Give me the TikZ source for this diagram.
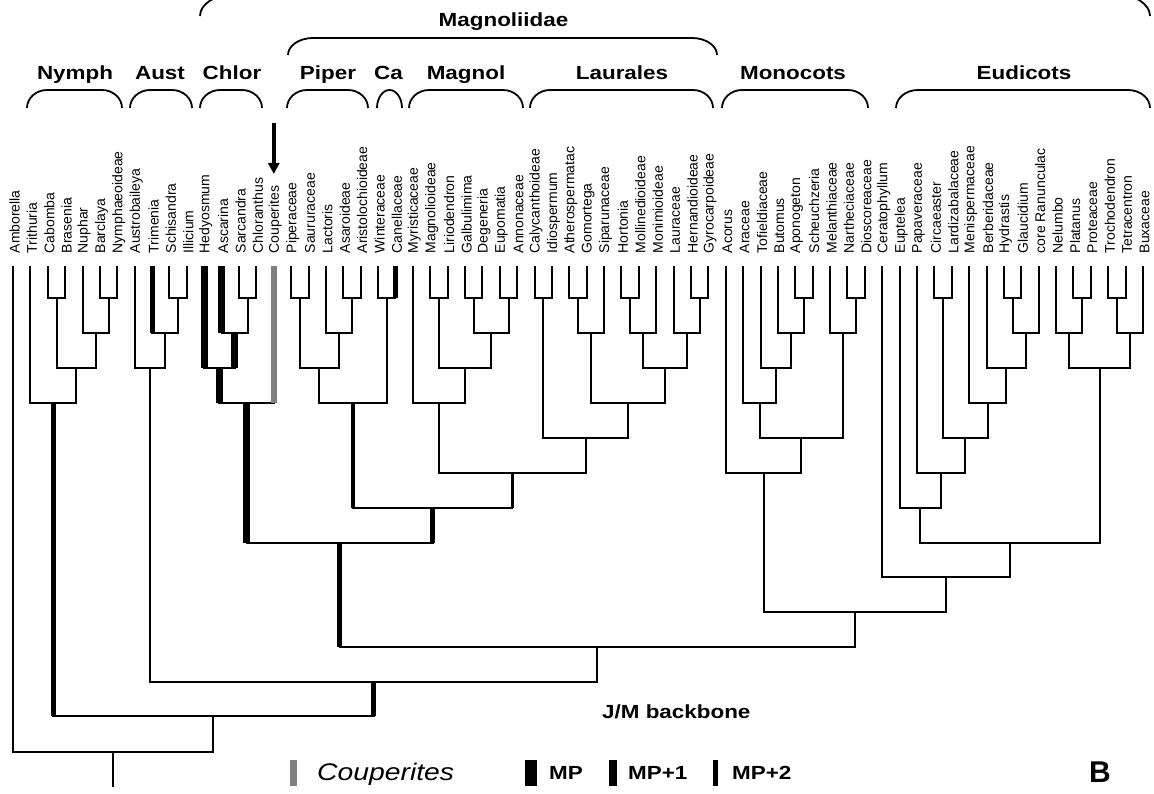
\documentclass[tikz,border=0pt]{standalone}
\usepackage{fontspec}
\setmainfont{Liberation Sans}
\usepackage{graphicx}
\usetikzlibrary{arrows.meta}
\definecolor{coupgray}{RGB}{128,128,128}
\newcommand\widetxt[1]{\scalebox{1.18}[1]{#1}}
\newcommand\brkt[5]{\draw[brk] (#1,#4) .. controls (#1,{#4-0.55*(#4-#3)}) and ({#1+0.45*#5},#3) .. ({#1+#5},#3) -- ({#2-#5},#3) .. controls ({#2-0.45*#5},#3) and (#2,{#4-0.55*(#4-#3)}) .. (#2,#4);}
\begin{document}
\begin{tikzpicture}[x=1pt,y=-1pt,
  br/.style={line width=2pt,line join=miter},
  mp/.style={line width=7pt},
  mpa/.style={line width=5pt},
  mpb/.style={line width=3.5pt},
  coup/.style={line width=6pt,draw=coupgray},
  brk/.style={line width=1.8pt},
  tiplab/.style={rotate=90,anchor=west,inner sep=0pt,font=\fontsize{14}{14}\selectfont},
  grp/.style={anchor=base,inner sep=0pt,font=\bfseries\fontsize{19}{19}\selectfont},
  legtxt/.style={anchor=base west,inner sep=0pt,font=\bfseries\fontsize{19}{19}\selectfont},
  legbar/.style={inner sep=0pt,minimum height=26pt,fill=black,draw=none}]
\useasboundingbox (0,0) rectangle (1154,794);
\fill[white] (0,0) rectangle (1154,794);
\clip (0,0) rectangle (1154,794);

% tips and their labels
\foreach \i/\n in {1/Amborella,2/Trithuria,3/Cabomba,4/Brasenia,5/Nuphar,6/Barclaya,7/Nymphaeoideae,
 8/Austrobaileya,9/Trimenia,10/Schisandra,11/Illicium,12/Hedyosmum,13/Ascarina,14/Sarcandra,15/Chloranthus,
 16/Couperites,17/Piperaceae,18/Saururaceae,19/Lactoris,20/Asaroideae,21/Aristolochioideae,22/Winteraceae,
 23/Canellaceae,24/Myristicaceae,25/Magnolioideae,26/Liriodendron,27/Galbulimima,28/Degeneria,29/Eupomatia,
 30/Annonaceae,31/Calycanthoideae,32/Idiospermum,33/Atherospermatac,34/Gomortega,35/Siparunaceae,36/Hortonia,
 37/Mollinedioideae,38/Monimioideae,39/Lauraceae,40/Hernandioideae,41/Gyrocarpoideae,42/Acorus,43/Araceae,
 44/Tofieldiaceae,45/Butomus,46/Aponogeton,47/Scheuchzeria,48/Melanthiaceae,49/Nartheciaceae,50/Dioscoreaceae,
 51/Ceratophyllum,52/Euptelea,53/Papaveraceae,54/Circaeaster,55/Lardizabalaceae,56/Menispermaceae,
 57/Berberidaceae,58/Hydrastis,59/Glaucidium,60/core Ranunculac,61/Nelumbo,62/Platanus,63/Proteaceae,
 64/Trochodendron,65/Tetracentron,66/Buxaceae}{
  \coordinate (t\i) at ({13+(\i-1)*17.385},266);
  \node[tiplab] (lab\i) at ({14.5+(\i-1)*17.385},253.5) {\n};
}

% internal nodes
\coordinate (CB) at (56.5,298);     \coordinate (BN) at (108.6,298);
\coordinate (NBN) at (95.55,333);   \coordinate (Nym) at (76.0,368);
\coordinate (NymT) at (53.2,403);
\coordinate (SI) at (178.2,298);    \coordinate (TSI) at (165.15,333);
\coordinate (Aus) at (149.9,368);
\coordinate (SC) at (247.7,298);    \coordinate (ASC) at (234.65,333);
\coordinate (Chl) at (219.4,368);   \coordinate (ChlC) at (246.6,403);
\coordinate (PS) at (299.85,298);   \coordinate (AA) at (352.0,298);
\coordinate (LAA) at (338.95,333);  \coordinate (Pip) at (319.4,368);
\coordinate (WC) at (386.8,298);    \coordinate (PC) at (353.1,403);
\coordinate (ML) at (438.9,298);    \coordinate (GD) at (473.7,298);
\coordinate (EA) at (508.5,298);    \coordinate (GDEA) at (491.1,333);
\coordinate (MLG) at (465.0,368);   \coordinate (Mag) at (438.95,403);
\coordinate (CI) at (543.25,298);   \coordinate (AG) at (578.0,298);
\coordinate (AGS) at (591.05,333);  \coordinate (HM) at (630.2,298);
\coordinate (HMM) at (643.2,333);   \coordinate (HG) at (699.7,298);
\coordinate (LHG) at (686.65,333);  \coordinate (HML) at (664.9,368);
\coordinate (AH) at (628.0,403);    \coordinate (Lau) at (585.6,438);
\coordinate (MagLau) at (512.3,473);\coordinate (Magn) at (432.7,508);
\coordinate (ChlMag) at (339.65,543);
\coordinate (AS) at (804.0,298);    \coordinate (BAS) at (790.95,333);
\coordinate (TBAS) at (775.8,368);  \coordinate (ArT) at (759.5,403);
\coordinate (ND) at (856.2,298);    \coordinate (MND) at (843.15,333);
\coordinate (MonoA) at (801.3,438); \coordinate (Mono) at (763.55,473);
\coordinate (CL) at (943.1,298);    \coordinate (HGl) at (1012.6,298);
\coordinate (HGR) at (1025.65,333); \coordinate (BHGR) at (1006.1,368);
\coordinate (MB) at (987.65,403);   \coordinate (CLMB) at (965.4,438);
\coordinate (PCL) at (941.2,473);   \coordinate (Ran) at (920.4,508);
\coordinate (PP) at (1082.2,298);   \coordinate (NPP) at (1069.15,333);
\coordinate (TT) at (1116.95,298);  \coordinate (TTB) at (1130.0,333);
\coordinate (Prot) at (1099.6,368); \coordinate (Eud) at (1010.0,543);
\coordinate (CE) at (946.15,577);   \coordinate (ME) at (854.85,612);
\coordinate (Mes) at (597.25,647);  \coordinate (AusMes) at (373.6,682);
\coordinate (NymR) at (213.4,716);  \coordinate (Root) at (113.2,752);
\coordinate (RootS) at (113.2,787);

% connectors
\foreach \a/\p/\b in {t3/CB/t4, t6/BN/t7, t5/NBN/BN, CB/Nym/NBN, t2/NymT/Nym,
  t10/SI/t11, t9/TSI/SI, t8/Aus/TSI,
  t14/SC/t15, t13/ASC/SC, t12/Chl/ASC, Chl/ChlC/t16,
  t17/PS/t18, t20/AA/t21, t19/LAA/AA, PS/Pip/LAA, t22/WC/t23, Pip/PC/WC,
  t25/ML/t26, t27/GD/t28, t29/EA/t30, GD/GDEA/EA, ML/MLG/GDEA, t24/Mag/MLG,
  t31/CI/t32, t33/AG/t34, AG/AGS/t35, t36/HM/t37, HM/HMM/t38, t40/HG/t41, t39/LHG/HG,
  HMM/HML/LHG, AGS/AH/HML, CI/Lau/AH, Mag/MagLau/Lau, PC/Magn/MagLau, ChlC/ChlMag/Magn,
  t46/AS/t47, t45/BAS/AS, t44/TBAS/BAS, t43/ArT/TBAS, t49/ND/t50, t48/MND/ND,
  ArT/MonoA/MND, t42/Mono/MonoA,
  t54/CL/t55, t58/HGl/t59, HGl/HGR/t60, t57/BHGR/HGR, t56/MB/BHGR, CL/CLMB/MB,
  t53/PCL/CLMB, t52/Ran/PCL, t62/PP/t63, t61/NPP/PP, t64/TT/t65, TT/TTB/t66,
  NPP/Prot/TTB, Ran/Eud/Prot, t51/CE/Eud, Mono/ME/CE, ChlMag/Mes/ME, Aus/AusMes/Mes,
  NymT/NymR/AusMes, t1/Root/NymR}{
  \draw[br] (\a) |- (\p) -| (\b);
}
\draw[br] (Root) -- (RootS);

% highlighted branches
\draw[mpa] (NymT) -- (NymT |- NymR);
\draw[mpa] (t9) -- (t9 |- TSI);
\draw[mp] (t12) -- (t12 |- Chl);
\draw[mp] (t13) -- (t13 |- ASC);
\draw[mp] (ASC) -- (ASC |- Chl);
\draw[mp] (Chl) -- (Chl |- ChlC);
\draw[mp] (ChlC) -- (ChlC |- ChlMag);
\draw[coup] (t16) -- (t16 |- ChlC);
\draw[mpa] (t23) -- (t23 |- WC);
\draw[mpb] (PC) -- (PC |- Magn);
\draw[mpb] (MagLau) -- (MagLau |- Magn);
\draw[mpa] (Magn) -- (Magn |- ChlMag);
\draw[mpa] (ChlMag) -- (ChlMag |- Mes);
\draw[mpa] (AusMes) -- (AusMes |- NymR);

% arrow to Couperites
\coordinate (arrS) at (273.8,123);
\coordinate (arrE) at (273.8,174);
\draw[line width=3.5pt,-{Triangle[length=11pt,width=11pt]}] (arrS) -- (arrE);

% brackets
\brkt{27}{122}{90}{108}{20}
\brkt{130}{192}{90}{108}{20}
\brkt{200}{262}{90}{108}{20}
\brkt{287}{368}{90}{108}{20}
\brkt{377}{402}{90}{108}{12.5}
\brkt{409}{523}{90}{108}{20}
\brkt{530}{713}{90}{108}{20}
\brkt{722}{868}{90}{108}{20}
\brkt{896}{1150}{90}{108}{22}
\brkt{288}{717}{38}{55}{25}
\brkt{200}{1150}{-6}{16}{35}

% group labels
\node[grp] (gNym) at (75,80) {\widetxt{Nymph}};
\node[grp] (gAus) at (160,80) {\widetxt{Aust}};
\node[grp] (gChl) at (232,80) {\widetxt{Chlor}};
\node[grp] (gPip) at (328,80) {\widetxt{Piper}};
\node[grp] (gCa) at (388.5,80) {\widetxt{Ca}};
\node[grp] (gMag) at (466,80) {\widetxt{Magnol}};
\node[grp] (gLau) at (622,80) {\widetxt{Laurales}};
\node[grp] (gMon) at (793,80) {\widetxt{Monocots}};
\node[grp] (gEud) at (1024,80) {\widetxt{Eudicots}};
\node[grp] (gMgd) at (503.5,27) {\widetxt{Magnoliidae}};
\node[legtxt] (jm) at (602,718) {\widetxt{J/M backbone}};

% legend
\node[legbar,fill=coupgray,minimum width=7pt] (lgC) at (293.5,773) {};
\node[anchor=base west,inner sep=0pt,font=\itshape\fontsize{24}{24}\selectfont] (lgCt) at (317,780) {\widetxt{Couperites}};
\node[legbar,minimum width=11.5pt] (lgMP) at (531,773) {};
\node[legtxt] (lgMPt) at (549,779.5) {\widetxt{MP}};
\node[legbar,minimum width=7.5pt] (lgMP1) at (613,773) {};
\node[legtxt] (lgMP1t) at (628,779.5) {\widetxt{MP+1}};
\node[legbar,minimum width=5pt] (lgMP2) at (715.5,773) {};
\node[legtxt] (lgMP2t) at (732,779.5) {\widetxt{MP+2}};
\node[anchor=base west,inner sep=0pt,font=\bfseries\fontsize{30}{30}\selectfont] (panel) at (1089,782) {B};
\end{tikzpicture}
\end{document}
